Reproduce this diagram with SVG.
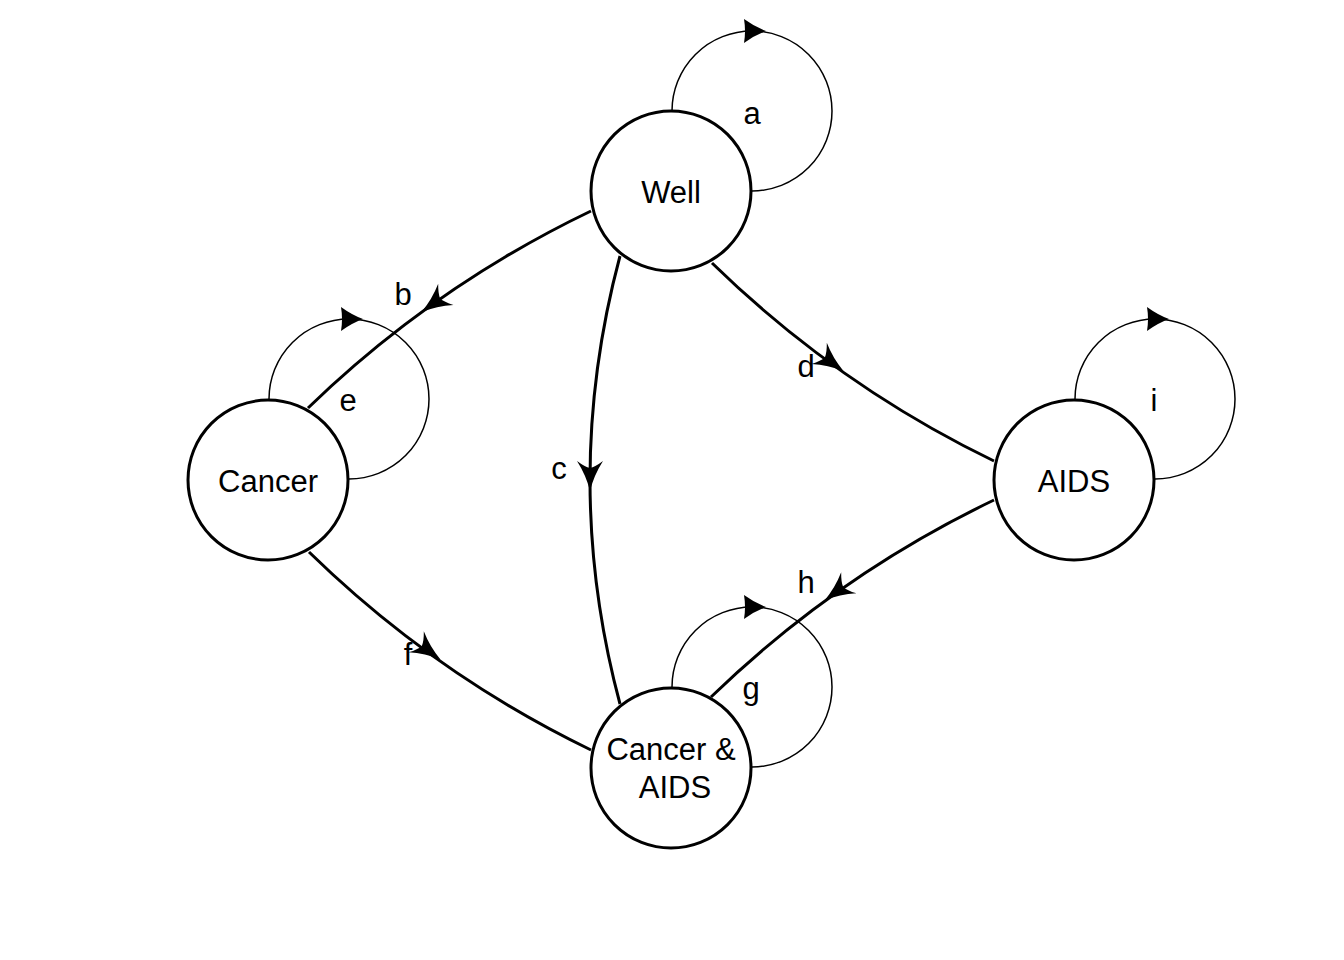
<svg xmlns="http://www.w3.org/2000/svg" xmlns:xlink="http://www.w3.org/1999/xlink" width="1344" height="960" viewBox="0 0 1344 960">
<defs>
<path id="ah" d="M16,0 Q0,-4 -14,-13 Q-8,-5 -7,0 Q-8,5 -14,13 Q0,4 16,0 Z" fill="#000"/>
<path id="lh" d="M12,0 Q1,-4 -10,-12 Q-8,0 -10,12 Q1,4 12,0 Z" fill="#000"/>
</defs>
<style>
.edge{fill:none;stroke:#000;stroke-width:3}
.loop{fill:none;stroke:#000;stroke-width:1.5}
.node circle{fill:#fff;stroke:#000;stroke-width:3}
text{font-family:"Liberation Sans",Arial,sans-serif;font-size:31px;fill:#000;text-anchor:middle}
</style>
<rect width="1344" height="960" fill="#fff"/>
<g id="connectors">
<path class="loop" d="M672,111 A80,80 0 1 1 752,191"/>
<path class="loop" d="M269,399 A80,80 0 1 1 349,479"/>
<path class="loop" d="M1075,399 A80,80 0 1 1 1155,479"/>
<path class="loop" d="M672,687 A80,80 0 1 1 752,767"/>
<use xlink:href="#lh" transform="translate(754,31)"/>
<use xlink:href="#lh" transform="translate(351,319)"/>
<use xlink:href="#lh" transform="translate(1157,319)"/>
<use xlink:href="#lh" transform="translate(754,607)"/>
<path class="edge" d="M591,211 Q433.5,286.5 308,408"/>
<path class="edge" d="M994,500 Q836.5,575.5 711,697"/>
<path class="edge" d="M712,263 Q837,385 994,461"/>
<path class="edge" d="M309,552 Q434,674 591,750"/>
<path class="edge" d="M620,256 Q560,480 620,704"/>
<use xlink:href="#ah" transform="translate(434.5,302.6) rotate(144)"/>
<use xlink:href="#ah" transform="translate(837.5,591) rotate(144)"/>
<use xlink:href="#ah" transform="translate(830.5,361.6) rotate(36)"/>
<use xlink:href="#ah" transform="translate(427.5,650) rotate(36)"/>
<use xlink:href="#ah" transform="translate(590,475) rotate(90)"/>
<text x="752" y="124">a</text>
<text x="403" y="305">b</text>
<text x="559" y="479">c</text>
<text x="806" y="377">d</text>
<text x="348" y="411">e</text>
<text x="408" y="665">f</text>
<text x="751" y="699">g</text>
<text x="806" y="593">h</text>
<text x="1154" y="411">i</text>
</g>
<g id="node-well" class="node">
<circle cx="671" cy="191" r="80"/>
<text x="671" y="203">Well</text>
</g>
<g id="node-cancer" class="node">
<circle cx="268" cy="480" r="80"/>
<text x="268" y="492">Cancer</text>
</g>
<g id="node-aids" class="node">
<circle cx="1074" cy="480" r="80"/>
<text x="1074" y="492">AIDS</text>
</g>
<g id="node-both" class="node">
<circle cx="671" cy="768" r="80"/>
<text x="671" y="760">Cancer &amp;</text>
<text x="675" y="798">AIDS</text>
</g>
</svg>
